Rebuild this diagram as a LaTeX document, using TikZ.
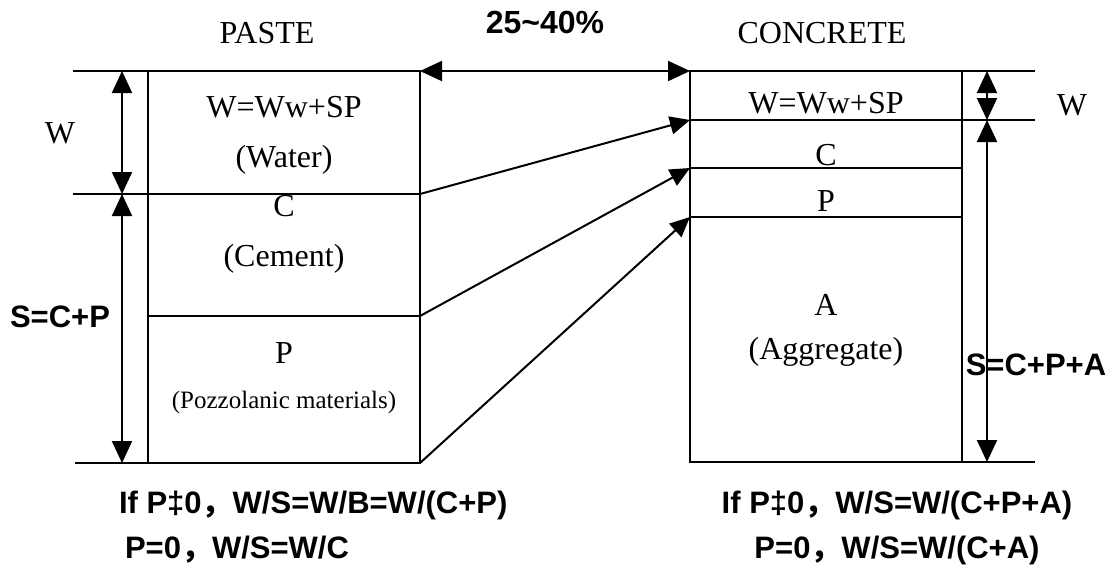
\documentclass[tikz,border=0pt]{standalone}
\usepackage{fontspec}
\setmainfont{Liberation Serif}
\setsansfont{Liberation Sans}
\newfontfamily\cjk{Noto Sans CJK SC}
\usetikzlibrary{arrows.meta,positioning}

\begin{document}
\begin{tikzpicture}[
    x=0.5pt, y=-0.5pt,
    line width=1pt,
    lbl/.style={inner sep=0pt, font=\fontsize{16}{19}\selectfont},
    small/.style={inner sep=0pt, font=\fontsize{12.5}{15}\selectfont},
    formula/.style={inner sep=0pt, font=\fontsize{15.5}{19}\selectfont\sffamily\bfseries},
    dim/.style={{Triangle[length=11pt,width=10pt]}-{Triangle[length=11pt,width=10pt]}},
    arr/.style={-{Triangle[length=10pt,width=9pt]}},
]
\useasboundingbox (0,0) rectangle (1113,575);
% Paste column
\coordinate (pTL) at (148,71);
\coordinate (pTR) at (420,71);
\coordinate (pW) at (420,194);
\coordinate (pC) at (420,316);
\coordinate (pBR) at (420,463);
\coordinate (pWl) at (148,194);
\coordinate (pCl) at (148,316);
\coordinate (pTx) at (73,71);
\coordinate (pWx) at (73,194);
\coordinate (pBx) at (75,463);
\coordinate (dT) at (122,71);
\coordinate (dW) at (122,194);
\coordinate (dB) at (122,463);
\draw (pTL) rectangle (pBR);
\draw (pTx) -- (pTL);
\draw (pWx) -- (pW);
\draw (pCl) -- (pC);
\draw (pBx) -- (pTL |- pBR);
\draw[dim] (dT) -- (dW);
\draw[dim] (dW) -- (dB);
% Concrete column
\coordinate (cTL) at (690,71);
\coordinate (cW) at (690,120);
\coordinate (cC) at (690,168);
\coordinate (cP) at (690,217);
\coordinate (cBR) at (962,462);
\coordinate (cTx) at (1035,71);
\coordinate (cWx) at (1035,120);
\coordinate (cBx) at (1035,462);
\coordinate (eT) at (987,71);
\coordinate (eW) at (987,120);
\coordinate (eB) at (987,462);
\draw (cTL) rectangle (cBR);
\draw (cTL) -- (cTx);
\draw (cW) -- (cWx);
\draw (cC) -- (cC -| cBR);
\draw (cP) -- (cP -| cBR);
\draw (cTL |- cBR) -- (cBx);
\draw[dim] (eT) -- (eW);
\draw[dim] (eW) -- (eB);
% Connectors
\draw[dim] (pTR) -- (cTL);
\draw[arr] (pW) -- (cW);
\draw[arr] (pC) -- (cC);
\draw[arr] (pBR) -- (cP);
% Titles
\node[lbl] (paste) at (267,33) {PASTE};
\node[lbl] (concrete) at (822,33) {CONCRETE};
\node[formula, font=\fontsize{16}{19}\selectfont\sffamily\bfseries] (ratio) at (545,22) {25\textasciitilde40\%};
% Paste labels
\node[lbl] (pw1) at (284,107) {W=Ww+SP};
\node[lbl] (pw2) at (284,160) {(Water)};
\node[lbl] (pc1) at (284,206) {C};
\node[lbl] (pc2) at (284,259) {(Cement)};
\node[lbl] (pp1) at (284,353) {P};
\node[small] (pp2) at (284,402) {(Pozzolanic materials)};
\node[lbl] (wl) at (60,133) {W};
\node[formula] (sl) at (60,317) {S=C+P};
% Concrete labels
\node[lbl] (cw1) at (826,103) {W=Ww+SP};
\node[lbl] (cc1) at (826,155) {C};
\node[lbl] (cp1) at (826,201) {P};
\node[lbl] (ca1) at (826,305) {A};
\node[lbl] (ca2) at (826,352) {(Aggregate)};
\node[lbl] (wr) at (1072,105) {W};
\node[formula] (sr) at (1036,365) {S=C+P+A};
% Ratios
\node[formula, anchor=west] (f1) at (118,505) {If P‡0{\cjk ，}W/S=W/B=W/(C+P)};
\node[formula, anchor=west] (f2) at (124,550) {P=0{\cjk ，}W/S=W/C};
\node[formula] (f3) at (897,505) {If P‡0{\cjk ，}W/S=W/(C+P+A)};
\node[formula] (f4) at (897,550) {P=0{\cjk ，}W/S=W/(C+A)};
\end{tikzpicture}
\end{document}
